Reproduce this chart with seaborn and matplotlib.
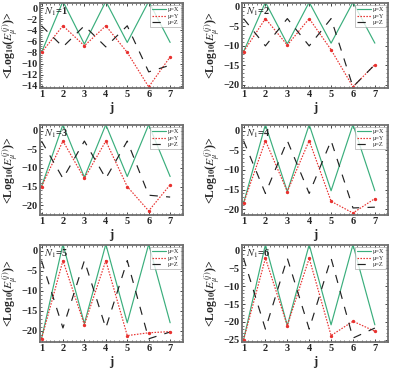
import numpy as np
import pandas as pd
import matplotlib
matplotlib.use("Agg")
import matplotlib.pyplot as plt
import seaborn as sns
from matplotlib.ticker import MultipleLocator, AutoMinorLocator

sns.set_style("ticks")
plt.rcParams['font.family'] = ['Liberation Serif', 'DejaVu Serif']
plt.rcParams['mathtext.fontset'] = 'stix'

j = [1, 2, 3, 4, 5, 6, 7]
panel_labels = ["1", "2", "3", "4", "5", "6"]
series_names = ["μ=X", "μ=Y", "μ=Z"]

x_vals = [
    [-8.0, 1.2, -6.5, 1.2, -6.2, 1.2, -6.2],
    [-11.5, 1.2, -9.5, 1.2, -9.3, 1.2, -9.3],
    [-15.0, 1.6, -12.5, 1.6, -12.3, 1.6, -12.3],
    [-18.5, 1.6, -15.5, 1.6, -15.3, 1.6, -15.3],
    [-22.0, 1.6, -18.2, 1.6, -18.0, 1.6, -18.0],
    [-25.0, 1.6, -21.0, 1.6, -20.8, 1.6, -20.8],
]
y_vals = [
    [-8.0, -3.2, -6.8, -3.2, -8.0, -14.2, -8.8],
    [-11.5, -3.0, -9.8, -3.0, -11.0, -20.5, -14.8],
    [-15.0, -2.8, -12.8, -2.8, -15.0, -21.5, -14.5],
    [-18.5, -2.5, -15.5, -2.5, -18.0, -21.0, -17.3],
    [-22.0, -2.5, -18.5, -2.5, -21.2, -20.5, -20.2],
    [-25.0, -2.2, -21.0, -2.2, -23.8, -19.8, -22.6],
]
z_vals = [
    [-3.2, -7.0, -3.2, -7.0, -3.2, -11.5, -10.3],
    [-3.0, -10.0, -3.0, -10.0, -3.0, -20.5, -14.8],
    [-2.8, -12.8, -2.8, -12.8, -2.8, -17.3, -17.8],
    [-2.5, -16.0, -2.5, -16.0, -2.5, -19.7, -19.5],
    [-2.5, -19.3, -2.5, -19.3, -2.5, -22.0, -20.3],
    [-2.2, -22.0, -2.2, -22.0, -2.2, -24.5, -21.7],
]
ylims = [(-14.4, 0.9), (-20.8, 1.0), (-22.6, 1.5), (-21.5, 1.5), (-22.8, 1.4), (-25.6, 1.5)]
ymajor = [2, 5, 5, 5, 5, 5]

W, H = 395, 369
fig = plt.figure(figsize=(W / 100, H / 100), dpi=100)

cols = [(40, 183), (242, 388)]
rows = [(3, 88), (125, 215), (245, 342)]

palette = {"μ=X": "#3aae7c", "μ=Y": "#e8312f", "μ=Z": "#222222"}
dashes = {"μ=X": "", "μ=Y": (1.3, 1.2), "μ=Z": (7, 7)}
frame_col = "#707070"

for k in range(6):
    r, c = divmod(k, 2)
    x0, x1 = cols[c]
    y0, y1 = rows[r]
    ax = fig.add_axes([x0 / W, 1 - y1 / H, (x1 - x0) / W, (y1 - y0) / H])
    df = pd.DataFrame({
        "j": j * 3,
        "v": x_vals[k] + y_vals[k] + z_vals[k],
        "s": [series_names[0]] * 7 + [series_names[1]] * 7 + [series_names[2]] * 7,
    })
    sns.lineplot(data=df, x="j", y="v", hue="s", style="s", palette=palette,
                 dashes=dashes, ax=ax, linewidth=0.85, sort=False, legend=True)
    ax.plot(j, y_vals[k], linestyle="none", marker="o", markersize=1.4, color=palette["μ=Y"])
    ax.set_xlim(0.93, 7.6)
    ax.set_ylim(*ylims[k])
    ax.xaxis.set_major_locator(MultipleLocator(1))
    ax.xaxis.set_minor_locator(AutoMinorLocator(5))
    ax.yaxis.set_major_locator(MultipleLocator(ymajor[k]))
    ax.yaxis.set_minor_locator(AutoMinorLocator(5))
    ax.tick_params(which="both", direction="in", top=True, right=True, color="#444444",
                   labelsize=7.5, pad=1.5)
    ax.tick_params(which="major", length=2.5, width=0.7)
    ax.tick_params(which="minor", length=1.2, width=0.5)
    for lab in ax.get_xticklabels() + ax.get_yticklabels():
        lab.set_fontweight("bold")
    for sp in ax.spines.values():
        sp.set_color(frame_col)
        sp.set_linewidth(1.3)
    ax.set_xlabel("j", fontsize=9, fontweight="bold", labelpad=2)
    ax.set_ylabel(r"<Log$_{\mathbf{10}}$($E_{\mu}^{(j)}$)>", fontsize=8.5, fontweight="bold", labelpad=1)
    ax.text(0.03, 0.97, r"$N_1$=" + panel_labels[k], transform=ax.transAxes,
            fontsize=7.5, fontweight="bold", va="top", ha="left")
    leg = ax.legend(loc="upper right", fontsize=4.5, frameon=True, handlelength=2.2,
                    borderpad=0.3, labelspacing=0.2, handletextpad=0.3,
                    borderaxespad=0.3, fancybox=False)
    leg.get_frame().set_edgecolor("#999999")
    leg.get_frame().set_linewidth(0.5)

fig.savefig("out.png", dpi=100)
